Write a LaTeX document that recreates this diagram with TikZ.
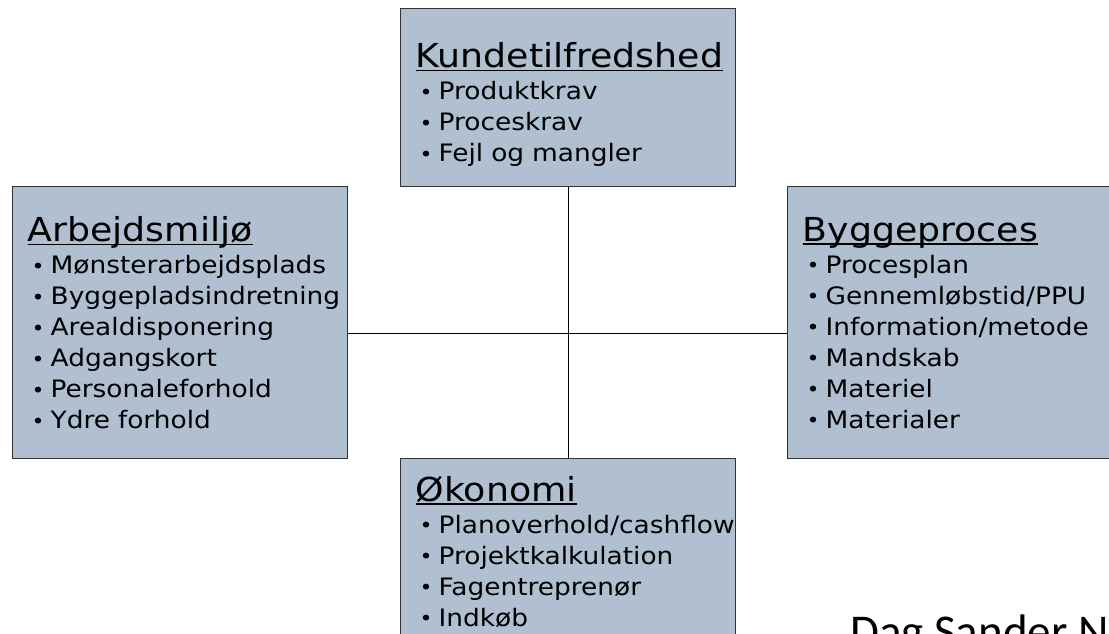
\documentclass[tikz,border=0pt]{standalone}
\usepackage{fontspec}
\setmainfont{DejaVu Sans}[FakeStretch=1.1]
\newfontfamily\sigfont{Carlito}
\usepackage{tikz}
\definecolor{boxblue}{HTML}{B0C0D1}
\definecolor{boxedge}{HTML}{333333}

\newcommand\headline[1]{{\fontsize{33}{31}\selectfont\setbox0\hbox{#1}\rlap{\rule[-3.5pt]{\wd0}{1.5pt}}\box0}}
\newcommand\bul[1]{\hspace*{4pt}\makebox[19pt][l]{\raisebox{0.5pt}{\fontsize{20}{20}\selectfont•}}#1}

\tikzset{
  areabox/.style={draw=boxedge, line width=1.3pt, fill=boxblue, anchor=north west,
    text width=305pt, inner xsep=15pt, inner ysep=0pt, align=left,
    font=\fontsize{24}{31}\selectfont},
  link/.style={draw=black, line width=1pt}
}

\begin{document}
\begin{tikzpicture}[x=1pt, y=-1pt]
\useasboundingbox (0,0) rectangle (1109,633);
\clip (0,0) rectangle (1109,633);
\fill[white] (0,0) rectangle (1109,633);

% de fire omraader
\node[areabox, minimum height=178pt] (kunde) at (400,8) {%
\rule{0pt}{39pt}\headline{Kundetilfredshed}\\[1pt]
\bul{Produktkrav}\\
\bul{Proceskrav}\\
\bul{Fejl og mangler}};

\node[areabox, minimum height=272pt] (arbejd) at (12,186) {%
\headline{Arbejdsmiljø}\\[1pt]
\bul{Mønsterarbejdsplads}\\
\bul{Byggepladsindretning}\\
\bul{Arealdisponering}\\
\bul{Adgangskort}\\
\bul{Personaleforhold}\\
\bul{Ydre forhold}};

\node[areabox, minimum height=272pt] (bygge) at (787,186) {%
\headline{Byggeproces}\\[1pt]
\bul{Procesplan}\\
\bul{Gennemløbstid/PPU}\\
\bul{Information/metode}\\
\bul{Mandskab}\\
\bul{Materiel}\\
\bul{Materialer}};

\node[areabox, minimum height=186pt] (okonomi) at (400,458) {%
\headline{Økonomi}\\[1pt]
\bul{Planoverhold/cashflow}\\
\bul{Projektkalkulation}\\
\bul{Fagentreprenør}\\
\bul{Indkøb}};

% krydset imellem
\draw[link] (kunde.south) -- (okonomi.north);
\draw[link] ([yshift=-11pt]arbejd.east) -- ([yshift=-11pt]arbejd.east -| bygge.west);

\node[anchor=base west, inner sep=0pt, font=\sigfont\fontsize{47}{50}\selectfont] (navn) at (850,647) {Dag Sander N};
\end{tikzpicture}
\end{document}
